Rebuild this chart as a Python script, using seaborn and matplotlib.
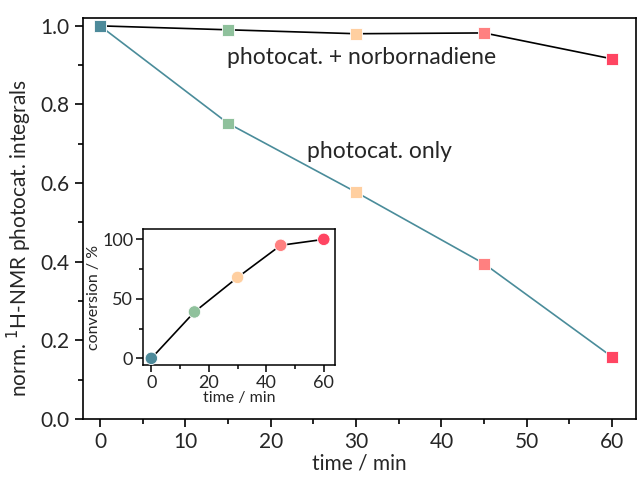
import matplotlib
matplotlib.use("Agg")
import matplotlib.pyplot as plt
import seaborn as sns
import pandas as pd
from matplotlib.ticker import MultipleLocator

sns.set_theme(style="ticks")
plt.rcParams['font.family'] = ['Lato', 'DejaVu Sans']

# datos
tiempo = [0, 15, 30, 45, 60]
solo_photocat = [1.0, 0.752, 0.577, 0.395, 0.158]
con_norbornadieno = [1.0, 0.99, 0.98, 0.982, 0.916]
conversion = [0, 39, 68, 95, 100]
colores = ['#4d8a9a', '#8fc19c', '#ffcfa0', '#ff8080', '#ff4562']

df = pd.DataFrame({'t': tiempo, 'solo': solo_photocat, 'nbd': con_norbornadieno,
                   'conv': conversion, 'c': colores})

fig = plt.figure(figsize=(6.38, 4.78), dpi=100)
ax = fig.add_axes([83/638, 1 - 419/478, (636 - 83)/638, (419 - 18)/478])

sns.lineplot(data=df, x='t', y='nbd', color='black', lw=1.2, ax=ax)
sns.lineplot(data=df, x='t', y='solo', color='#4a8c9a', lw=1.2, ax=ax)
for col in ['nbd', 'solo']:
    ax.scatter(df['t'], df[col], c=df['c'], marker='s', s=70,
               edgecolors='white', linewidths=0.6, zorder=3)

ax.set_xlim(-2, 62.8)
ax.set_ylim(0, 1.02)
ax.xaxis.set_major_locator(MultipleLocator(10))
ax.xaxis.set_minor_locator(MultipleLocator(5))
ax.yaxis.set_major_locator(MultipleLocator(0.2))
ax.yaxis.set_minor_locator(MultipleLocator(0.1))
ax.yaxis.set_major_formatter(plt.FormatStrFormatter('%.1f'))
ax.tick_params(which='both', direction='out', color='black', labelsize=15, width=1.2)
ax.tick_params(which='major', length=6)
ax.tick_params(which='minor', length=3.5)
for s in ax.spines.values():
    s.set_linewidth(1.2)
    s.set_color('black')
ax.set_xlabel('time / min', fontsize=15, labelpad=1)
ax.set_ylabel('norm. $^{1}$H-NMR photocat. integrals', fontsize=15)
ax.yaxis.set_label_coords(-0.088, 0.452)

ax.text(30.6, 0.919, 'photocat. + norbornadiene', fontsize=16.5, ha='center', va='center')
ax.text(32.7, 0.681, 'photocat. only', fontsize=16.5, ha='center', va='center')

# inset
axi = fig.add_axes([143/638, 1 - 365/478, (335 - 143)/638, (365 - 229)/478])
sns.lineplot(data=df, x='t', y='conv', color='black', lw=1.2, ax=axi)
axi.scatter(df['t'], df['conv'], c=df['c'], marker='o', s=80,
            edgecolors='white', linewidths=0.6, zorder=3)
axi.set_xlim(-2.9, 63.9)
axi.set_ylim(-5.6, 108.7)
axi.xaxis.set_major_locator(MultipleLocator(20))
axi.xaxis.set_minor_locator(MultipleLocator(10))
axi.yaxis.set_major_locator(MultipleLocator(50))
axi.yaxis.set_minor_locator(MultipleLocator(25))
axi.tick_params(which='both', direction='out', color='black', labelsize=13, width=1.1)
axi.tick_params(which='major', length=5, pad=2)
axi.tick_params(which='minor', length=3)
for s in axi.spines.values():
    s.set_linewidth(1.1)
    s.set_color('black')
axi.set_xlabel('time / min', fontsize=11.5, labelpad=0)
axi.set_ylabel('conversion / %', fontsize=11.5, labelpad=1)

plt.savefig('out.png', dpi=100)
plt.close()
